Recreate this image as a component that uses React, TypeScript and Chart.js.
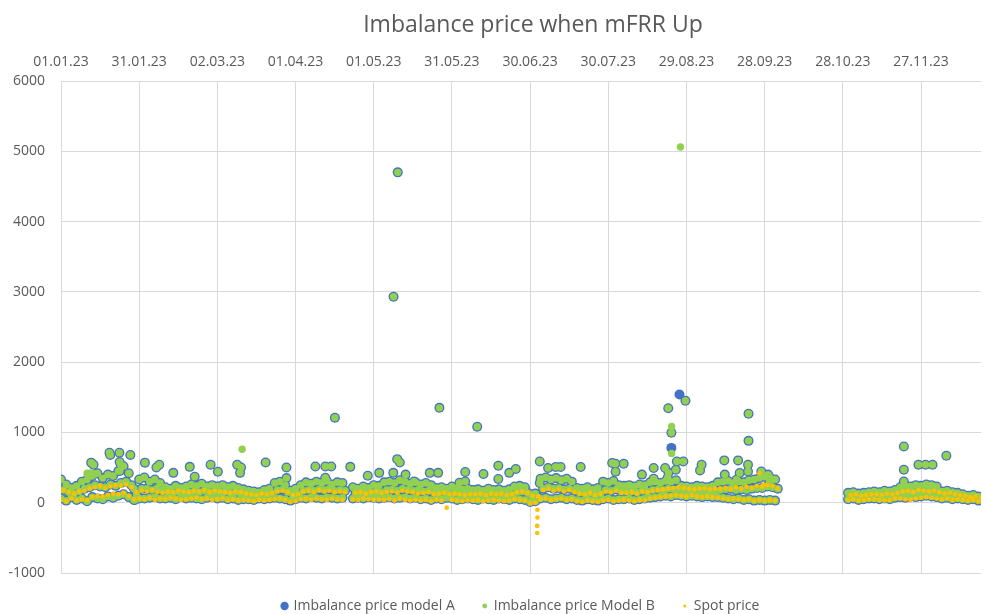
import React, { useEffect, useRef } from 'react';
import { Chart, registerables } from 'chart.js';

Chart.register(...registerables);

const titleText = 'Imbalance price when mFRR Up';
const seriesLabels = ['Imbalance price model A', 'Imbalance price Model B', 'Spot price'];
const seriesColors = ['#4472C4', '#92D050', '#FFC000'];

const xTickDays = [0, 30, 60, 90, 120, 150, 180, 210, 240, 270, 300, 330];
const xTickLabels = ['01.01.23', '31.01.23', '02.03.23', '01.04.23', '01.05.23', '31.05.23', '30.06.23', '30.07.23', '29.08.23', '28.09.23', '28.10.23', '27.11.23'];
const xMaxDay = 353;
const yMin = -1000;
const yMax = 6000;
const yStep = 1000;
const sampleStep = 2; // days between samples in the band arrays below

// Dense band of imbalance prices (shared by model A and B), sampled every 2 days
const bandHigh: (number | null)[] = [
  330, 260, 210, 240, 300, 330,
  380, 420, 350, 400, 380, 450, 520, 420, 200,
  330, 360, 300, 330, 280,
  220, 200, 240, 210, 230,
  260, 240, 270, 230, 250,
  230, 250, 220, 240, 210, 190,
  170, 160, 150, 180, 200,
  280, 300, 250, 170, 200,
  250, 290, 270, 300, 280, 310, 260, 290, 280,
  null,
  220, 200, 230, 210, 250, 240,
  290, 300, 280, 320, 300, 270, 290, 260, 280, 250,
  210, 220, 200, 230, 210, 190, 200,
  180, 190, 170, 200, 180, 190, 170, 190,
  230, 240, 220, 120, 130,
  340, 360, 330, 350, 320, 340, 300,
  210, 200, 220, 190, 210,
  300, 280, 310, 250,
  240, 250, 230, 260, 250,
  290, 300, 280, 310, 300, 320,
  240, 230, 220, 240, 230, 220, 240,
  290, 300, 310, 280, 300, 290, 320, 330,
  350, 370, 360, 330,
  null, null, null, null, null, null, null, null, null, null, null, null, null,
  140, 150, 130, 140, 150, 160, 150, 170, 160, 180,
  220, 240, 230, 250, 240, 260, 250, 230,
  160, 170, 150, 140, 120, 100, 110, 90,
];

const bandMid: (number | null)[] = [
  180, 150, 130, 160, 200, 220,
  250, 230, 220, 260, 240, 280, 300, 250, 120,
  200, 200, 180, 210, 170,
  150, 130, 160, 140, 150,
  160, 150, 170, 150, 160,
  150, 160, 140, 150, 130, 120,
  110, 100, 100, 120, 130,
  180, 190, 150, 110, 120,
  170, 180, 170, 190, 180, 200, 170, 180, 170,
  null,
  140, 130, 150, 140, 160, 150,
  180, 190, 170, 200, 180, 170, 180, 160, 170, 150,
  140, 150, 130, 140, 130, 120, 130,
  120, 130, 110, 130, 120, 130, 110, 120,
  150, 160, 140, 70, 80,
  200, 220, 200, 210, 190, 200, 180,
  140, 130, 140, 120, 130,
  180, 170, 190, 160,
  160, 160, 150, 170, 160,
  180, 190, 180, 200, 190, 200,
  170, 160, 160, 170, 160, 150, 160,
  180, 190, 200, 180, 190, 180, 200, 210,
  210, 230, 220, 200,
  null, null, null, null, null, null, null, null, null, null, null, null, null,
  90, 100, 90, 100, 100, 110, 100, 110, 100, 120,
  150, 160, 150, 170, 160, 170, 160, 150,
  110, 120, 100, 100, 80, 70, 80, 60,
];

const bandLow: (number | null)[] = [
  60, 30, 80, 40, 60, 20,
  80, 60, 50, 90, 70, 100, 120, 80, 40,
  60, 60, 70, 80, 60,
  60, 70, 50, 80, 60,
  70, 60, 50, 70, 80,
  60, 70, 50, 60, 40, 50,
  50, 40, 60, 50, 60,
  70, 60, 50, 30, 50,
  70, 60, 80, 70, 60, 80, 70, 60, 70,
  null,
  60, 70, 60, 80, 70, 60,
  70, 80, 60, 70, 80, 60, 70, 50, 60, 40,
  60, 50, 70, 60, 40, 50, 60,
  50, 40, 60, 50, 40, 60, 50, 40,
  60, 50, 40, 10, 20,
  60, 70, 50, 60, 70, 50, 60,
  40, 30, 50, 40, 30,
  50, 60, 40, 50,
  50, 60, 40, 50, 60,
  70, 80, 90, 100, 90, 110,
  100, 90, 100, 90, 80, 90, 80,
  80, 70, 60, 50, 60, 40, 50, 30,
  40, 30, 40, 30,
  null, null, null, null, null, null, null, null, null, null, null, null, null,
  50, 60, 40, 50, 60, 60, 50, 60, 50, 70,
  80, 70, 90, 80, 90, 100, 90, 80,
  60, 70, 50, 60, 50, 40, 50, 30,
];

// Spot price, sampled every 2 days (upper and lower part of the daily spread)
const spotHigh: (number | null)[] = [
  180, 150, 130, 160, 170, 200,
  220, 240, 210, 230, 250, 240, 260, 220, 150,
  170, 160, 180, 150, 140,
  160, 150, 170, 160, 150,
  170, 160, 180, 150, 170,
  160, 150, 140, 160, 150, 130,
  120, 110, 130, 120, 140,
  160, 170, 150, 110, 120,
  160, 170, 150, 180, 160, 170, 150, 160, 150,
  null,
  140, 150, 130, 150, 160, 140,
  150, 160, 140, 170, 160, 150, 130, 140, 150, 120,
  130, 140, 120, 130, 120, 110, 120,
  120, 130, 110, 130, 120, 130, 110, 120,
  150, 160, 140, 100, 90,
  180, 200, 170, 190, 160, 180, 150,
  130, 120, 140, 110, 130,
  160, 150, 170, 140,
  140, 150, 130, 160, 150,
  170, 180, 190, 200, 210, 220,
  210, 200, 190, 200, 210, 190, 200,
  200, 210, 190, 220, 200, 230, 210, 240,
  230, 250, 240, 200,
  null, null, null, null, null, null, null, null, null, null, null, null, null,
  110, 120, 100, 110, 120, 120, 110, 130, 120, 140,
  160, 170, 150, 180, 170, 160, 170, 150,
  130, 140, 120, 110, 100, 80, 90, 70,
];

const spotLow: (number | null)[] = [
  40, 20, 60, 30, 50, 40,
  80, 100, 90, 110, 130, 120, 140, 100, 50,
  60, 50, 70, 40, 60,
  50, 70, 60, 40, 50,
  60, 70, 50, 60, 40,
  50, 60, 40, 50, 30, 40,
  30, 20, 40, 30, 40,
  50, 60, 40, 10, 20,
  50, 60, 40, 60, 50, 40, 60, 50, 40,
  null,
  50, 40, 60, 50, 40, 50,
  40, 50, 30, 60, 40, 30, 40, 30, 40, 20,
  40, 30, -70, 40, 30, 20, 30,
  30, 40, 20, 30, 40, 30, 20, 30,
  50, 40, 30, -10, 0,
  50, 60, 40, 50, 60, 40, 50,
  20, 10, 30, 20, 10,
  30, 40, 20, 30,
  40, 30, 20, 40, 30,
  60, 70, 80, 90, 100, 110,
  100, 90, 110, 90, 80, 90, 80,
  70, 60, 50, 60, 50, 40, 50, 30,
  40, 30, 40, 30,
  null, null, null, null, null, null, null, null, null, null, null, null, null,
  40, 50, 30, 40, 50, 50, 40, 30, 40, 60,
  60, 50, 40, 60, 70, 80, 70, 60,
  50, 60, 40, 50, 40, 30, 40, 20,
];

// Individual peaks [day of year, price] present in both imbalance models
const sharedPeaks: [number, number][] = [
  [11.6, 570], [12.5, 540], [18.6, 710], [18.9, 680], [22.4, 710], [22.5, 580], [23, 530], [22.6, 450],
  [26.6, 680], [28.3, 40], [32.2, 570], [36.6, 500], [37.7, 540], [43.1, 425], [49.4, 510], [51.3, 370],
  [57.4, 540], [60.2, 440], [67.6, 540], [69.1, 500], [68.7, 425], [78.5, 573], [86.5, 500], [86.5, 350],
  [97.6, 516], [101.4, 516], [101.4, 355], [103.7, 516], [105.1, 1210], [111, 510], [117.7, 384],
  [122.1, 425], [127.5, 425], [127.6, 2930], [129.2, 4700], [129, 620], [130, 573], [132.2, 400],
  [135.4, 303], [141.5, 425], [144.7, 425], [145.2, 1350], [152.9, 284], [155.1, 436], [155.1, 303],
  [159.7, 1080], [162.1, 408], [167.8, 526], [167.8, 337], [172, 425], [174.5, 480], [183.7, 587],
  [183.7, 280], [186.9, 493], [189.8, 508], [191.7, 508], [199.4, 508], [211.5, 564], [212.7, 555],
  [212.8, 440], [215.9, 555], [222.9, 400], [227.4, 493], [227.4, 340], [231.8, 493], [232.8, 355],
  [233.1, 425], [233, 1345], [234.2, 995], [235.9, 470], [236.3, 587], [238.8, 587], [239.6, 1450],
  [245.2, 460], [245.8, 540], [254.5, 602], [254.7, 400], [259.2, 327], [259.8, 602], [260.4, 422],
  [263.6, 540], [263.6, 445], [263.8, 880], [263.8, 1265], [268.7, 445], [271.3, 400], [271.8, 303],
  [323.4, 800], [323.4, 470], [323.4, 303], [329, 540], [331.7, 540], [334.4, 540], [339.7, 668],
];

const modelAOnly: [number, number][] = [[237.3, 1540], [234.2, 780]];
const modelBOnly: [number, number][] = [
  [69.5, 760], [237.7, 5060], [234.3, 1085], [234.3, 700], [10, 420], [11.5, 425], [13, 410],
];
const spotExtra: [number, number][] = [
  [182.8, -100], [182.8, -210], [182.7, -330], [182.7, -430], [268, 420], [269.5, 260],
];

type Pt = { x: number; y: number };

function sampled(values: (number | null)[], offset: number): Pt[] {
  const pts: Pt[] = [];
  values.forEach((v, i) => {
    if (v !== null) pts.push({ x: i * sampleStep + offset, y: v });
  });
  return pts;
}
const pairs = (list: [number, number][]): Pt[] => list.map(([x, y]) => ({ x, y }));

const textColor = '#595959';
const gridColor = '#D9D9D9';
const fontFamily = '"Open Sans", "Noto Sans", sans-serif';

const overlayPlugin = {
  id: 'overlay',
  afterDraw(chart: any) {
    const ctx: CanvasRenderingContext2D = chart.ctx;
    ctx.save();
    ctx.fillStyle = textColor;
    ctx.textBaseline = 'middle';
    ctx.textAlign = 'center';
    ctx.font = `23px ${fontFamily}`;
    ctx.fillText(titleText, 533, 25);

    // legend
    ctx.font = `14px ${fontFamily}`;
    ctx.textAlign = 'left';
    const radii = [4.2, 2.4, 1.5];
    const markerGap = 9;
    const itemGap = 30;
    const widths = seriesLabels.map((t) => ctx.measureText(t).width);
    const total = widths.reduce((a, b) => a + b, 0) + markerGap * 3 + itemGap * 2;
    let x = 522 - total / 2;
    const y = 606;
    seriesLabels.forEach((t, i) => {
      ctx.beginPath();
      ctx.fillStyle = seriesColors[i];
      ctx.arc(x, y, radii[i], 0, Math.PI * 2);
      ctx.fill();
      ctx.fillStyle = textColor;
      ctx.fillText(t, x + markerGap, y);
      x += markerGap + widths[i] + itemGap;
    });
    ctx.restore();
  },
};

export default function App() {
  const canvasRef = useRef<HTMLCanvasElement | null>(null);

  useEffect(() => {
    if (!canvasRef.current) return;
    const shared = [
      ...sampled(bandHigh, 0),
      ...sampled(bandMid, 1),
      ...sampled(bandLow, 0),
      ...pairs(sharedPeaks),
    ];
    const dataA = [...shared, ...pairs(modelAOnly)];
    const dataB = [...shared, ...pairs(modelBOnly)];
    const dataSpot = [...sampled(spotHigh, 1), ...sampled(spotLow, 0), ...pairs(spotExtra)];

    const chart = new Chart(canvasRef.current, {
      type: 'scatter',
      data: {
        datasets: [
          {
            label: seriesLabels[0],
            data: dataA,
            backgroundColor: seriesColors[0],
            borderWidth: 0,
            pointRadius: 5,
            order: 3,
          },
          {
            label: seriesLabels[1],
            data: dataB,
            backgroundColor: seriesColors[1],
            borderWidth: 0,
            pointRadius: 3.7,
            order: 2,
          },
          {
            label: seriesLabels[2],
            data: dataSpot,
            backgroundColor: seriesColors[2],
            borderWidth: 0,
            pointRadius: 2.3,
            order: 1,
          },
        ],
      },
      options: {
        animation: false,
        responsive: false,
        devicePixelRatio: 1,
        layout: { padding: { top: 37, bottom: 41, left: 0, right: 0 } },
        plugins: {
          legend: { display: false },
          title: { display: false },
          tooltip: { enabled: false },
        },
        scales: {
          x: {
            type: 'linear',
            position: 'top',
            min: 0,
            max: xMaxDay,
            afterBuildTicks: (scale: any) => {
              scale.ticks = xTickDays.map((v) => ({ value: v }));
            },
            afterFit: (scale: any) => {
              scale.height = 44;
            },
            ticks: {
              autoSkip: false,
              maxRotation: 0,
              padding: 11,
              color: textColor,
              font: { family: fontFamily, size: 14 },
              callback: (_v: any, i: number) => xTickLabels[i],
            },
            grid: { color: gridColor, lineWidth: 1, drawTicks: false },
            border: { display: false },
          },
          y: {
            type: 'linear',
            min: yMin,
            max: yMax,
            afterFit: (scale: any) => {
              scale.width = 61;
            },
            ticks: {
              stepSize: yStep,
              padding: 16,
              color: textColor,
              font: { family: fontFamily, size: 14 },
              callback: (v: any) => String(v),
            },
            grid: { color: gridColor, lineWidth: 1, drawTicks: false },
            border: { display: false },
          },
        },
      },
      plugins: [overlayPlugin],
    } as any);

    return () => chart.destroy();
  }, []);

  return (
    <div style={{ position: 'absolute', left: 0, top: 0, width: 986, height: 614, background: '#fff' }}>
      <canvas ref={canvasRef} width={986} height={614} style={{ display: 'block' }} />
    </div>
  );
}
